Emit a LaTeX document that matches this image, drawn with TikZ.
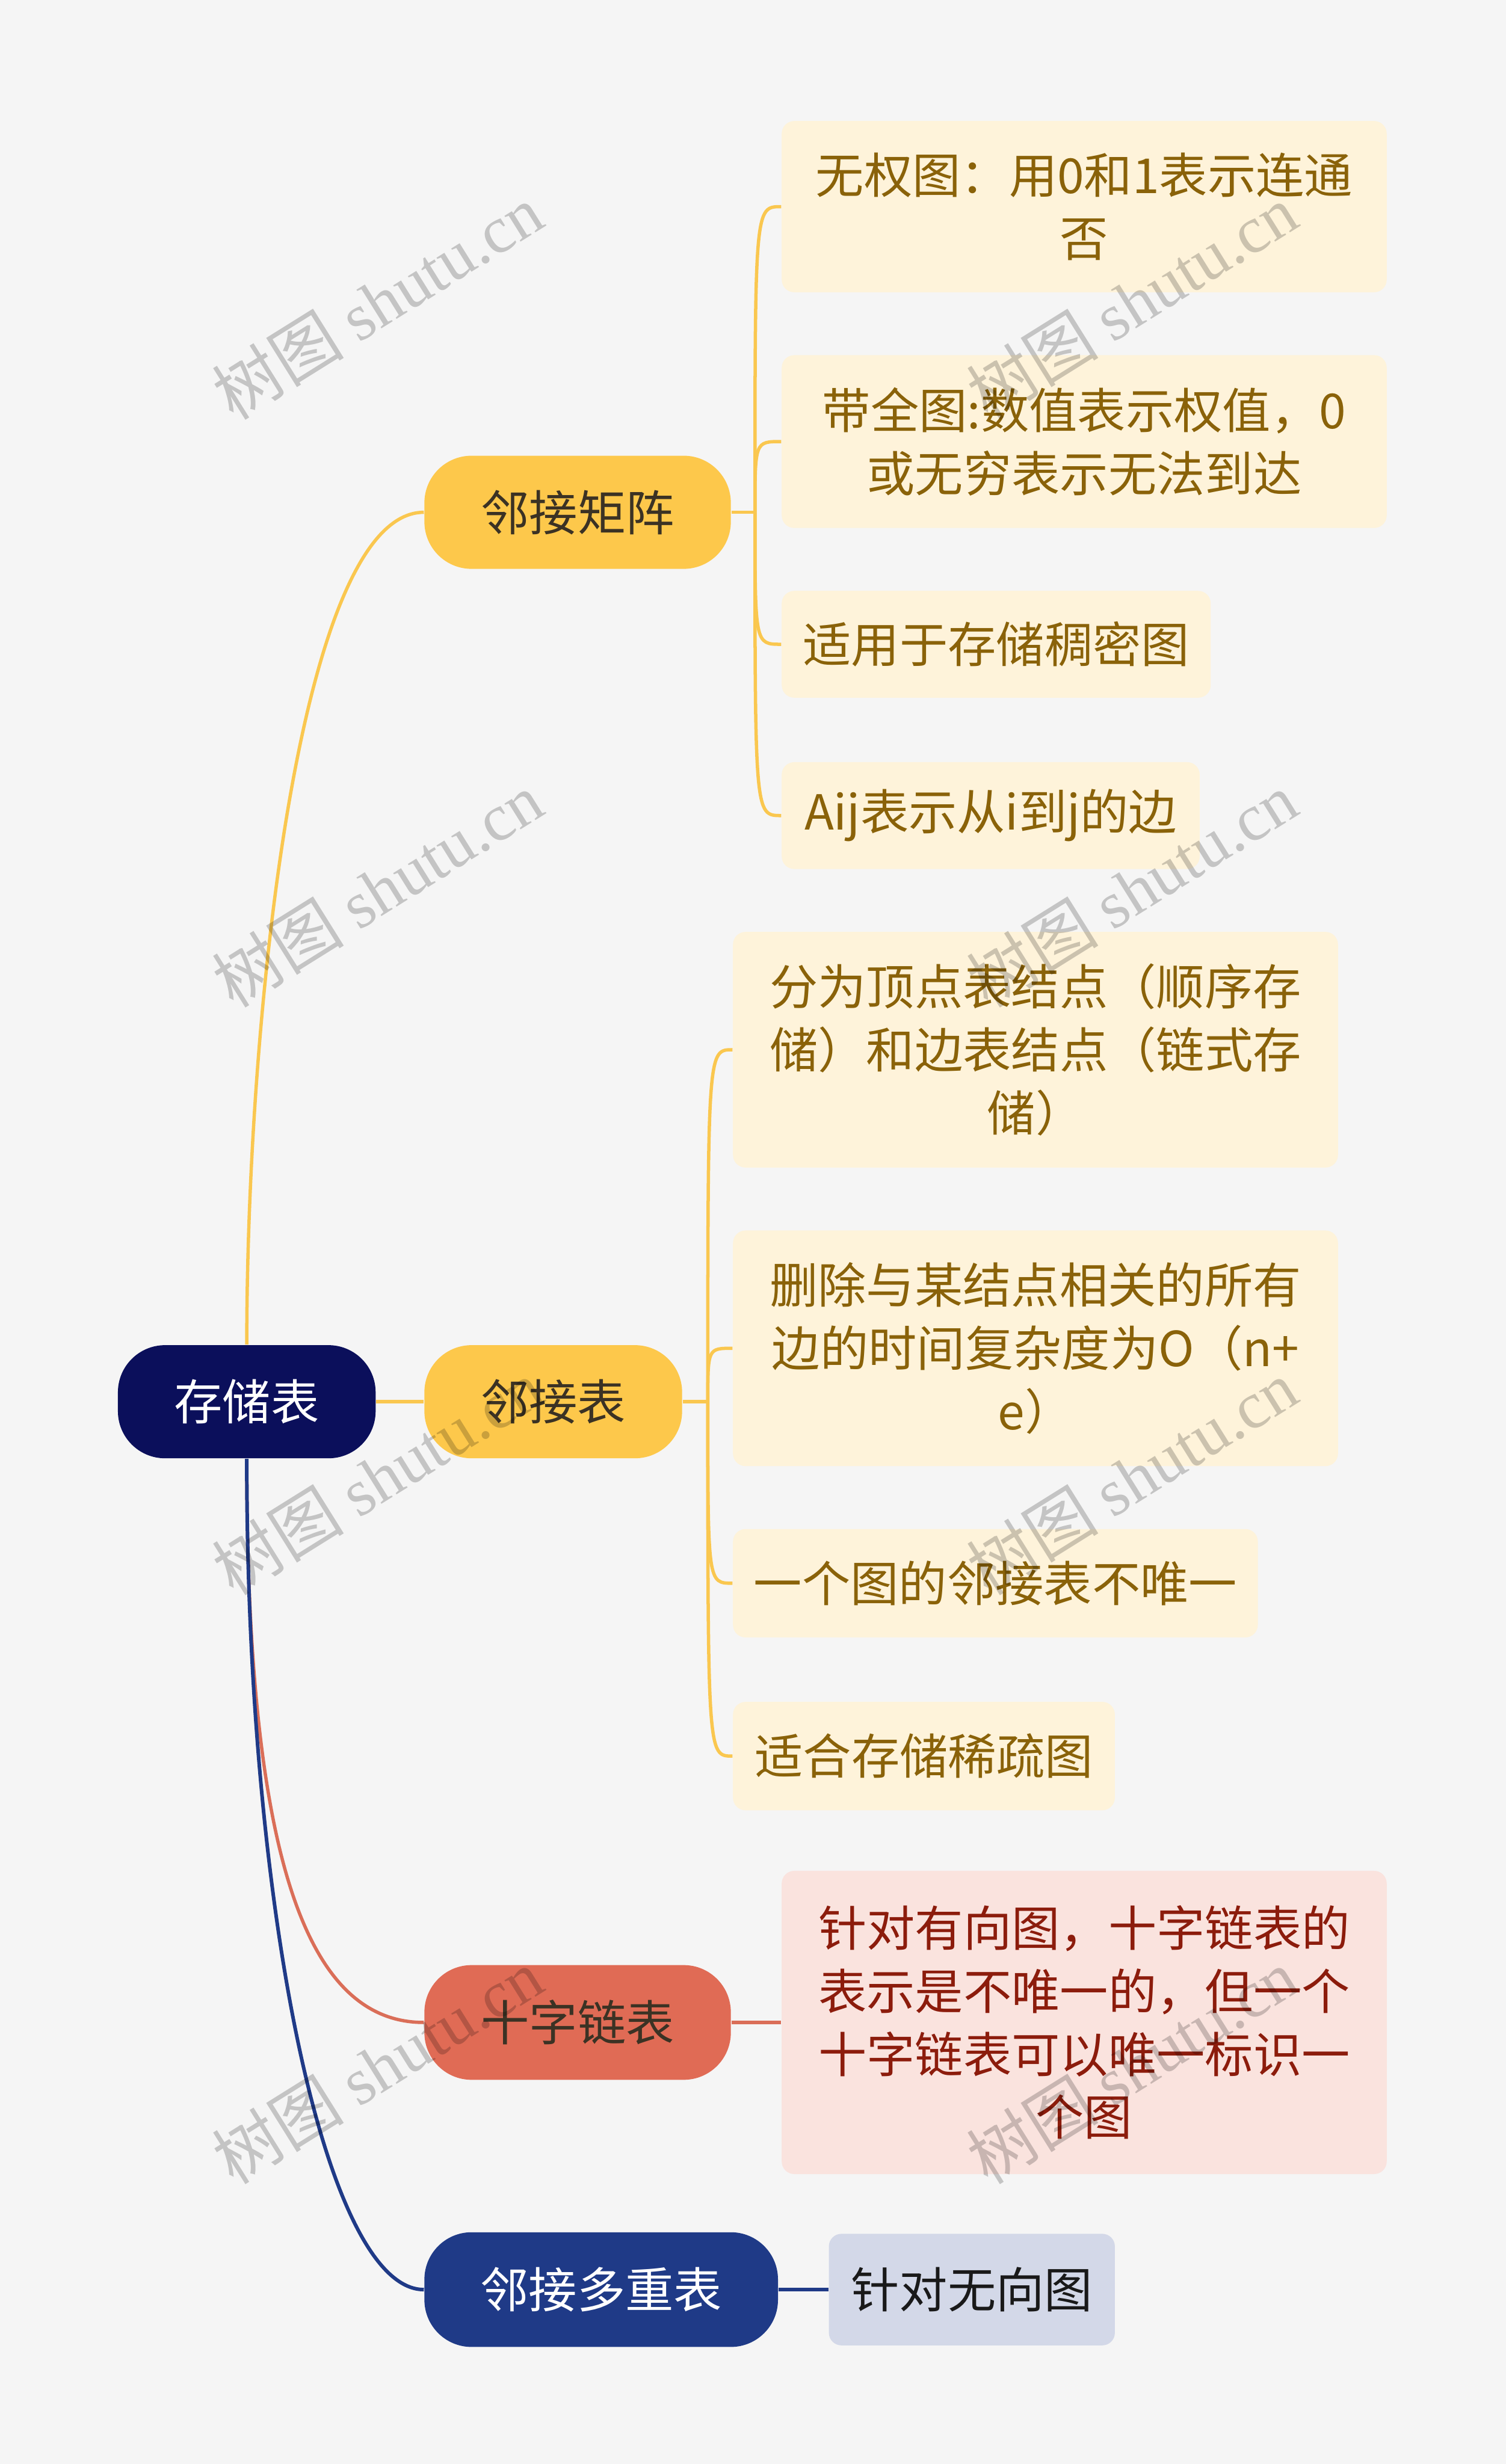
\documentclass[tikz,border=0pt]{standalone}
\usepackage{fontspec}
\setmainfont{Noto Sans CJK SC}
\newfontfamily\wmlatin{Liberation Serif}
\usetikzlibrary{calc,positioning}
\definecolor{paper}{HTML}{F5F5F5}
\definecolor{rootblue}{HTML}{0B0F5B}
\definecolor{topicyellow}{HTML}{FDC84B}
\definecolor{lineyellow}{HTML}{FAC74F}
\definecolor{leafcream}{HTML}{FEF3DA}
\definecolor{leafbrown}{HTML}{8A6209}
\definecolor{topicdark}{HTML}{3B3224}
\definecolor{topicsalmon}{HTML}{E06B55}
\definecolor{linesalmon}{HTML}{DA6E58}
\definecolor{leafpink}{HTML}{FAE3DE}
\definecolor{leafred}{HTML}{8C1C0C}
\definecolor{topicnavy}{HTML}{1F3A87}
\definecolor{leaflilac}{HTML}{D3D8E8}
\tikzset{line cap=round,
  topic/.style={rounded corners=.6cm,inner sep=0pt,minimum height=1.44cm,align=center,
    font=\fontsize{17.5}{23}\selectfont},
  ytopic/.style={topic,fill=topicyellow,text=topicdark},
  leaf/.style={rounded corners=.16cm,inner sep=0pt,anchor=west,align=center,
    font=\fontsize{17.5}{22.8}\selectfont},
  yleaf/.style={leaf,fill=leafcream,text=leafbrown},
  yline/.style={draw=lineyellow,line width=1.2pt},
  rline/.style={draw=linesalmon,line width=1.2pt},
  bline/.style={draw=topicnavy,line width=1.3pt},
  wmark/.style={rotate=32,text=black,text opacity=.2,font=\fontsize{24}{24}\selectfont}}
\begin{document}
\begin{tikzpicture}[x=.02cm,y=-.02cm]
\fill[paper] (0,0) rectangle (958,1568);
\useasboundingbox (0,0) rectangle (958,1568);
\node[topic,fill=rootblue,text=white,minimum width=3.28cm] (root) at (157,892) {存储表};
\node[ytopic,minimum width=3.9cm] (mat) at (367.5,326) {邻接矩阵};
\node[ytopic,minimum width=3.28cm] (adj) at (352,892) {邻接表};
\node[topic,fill=topicsalmon,text=topicdark,minimum width=3.9cm,minimum height=1.46cm] (cross) at (367.5,1287) {十字链表};
\node[topic,fill=topicnavy,text=white,minimum width=4.5cm,minimum height=1.46cm] (multi) at (382.5,1457) {邻接多重表};
\node[yleaf,minimum width=7.7cm,minimum height=2.18cm] (m1) at (497,131.5) {无权图：用0和1表示连通\\否};
\node[yleaf,minimum width=7.7cm,minimum height=2.2cm] (m2) at (497,281) {带全图:数值表示权值，0\\或无穷表示无法到达};
\node[yleaf,minimum width=5.46cm,minimum height=1.36cm] (m3) at (497,410) {适用于存储稠密图};
\node[yleaf,minimum width=5.32cm,minimum height=1.36cm] (m4) at (497,519) {Aij表示从i到j的边};
\node[yleaf,minimum width=7.7cm,minimum height=3cm] (a1) at (466,668) {分为顶点表结点（顺序存\\储）和边表结点（链式存\\储）};
\node[yleaf,minimum width=7.7cm,minimum height=3cm] (a2) at (466,858) {删除与某结点相关的所有\\边的时间复杂度为O（n+\\e）};
\node[yleaf,minimum width=6.68cm,minimum height=1.38cm] (a3) at (466,1007.5) {一个图的邻接表不唯一};
\node[yleaf,minimum width=4.86cm,minimum height=1.38cm] (a4) at (466,1117.5) {适合存储稀疏图};
\node[leaf,fill=leafpink,text=leafred,minimum width=7.7cm,minimum height=3.86cm] (c1) at (497,1287) {针对有向图，十字链表的\\表示是不唯一的，但一个\\十字链表可以唯一标识一\\个图};
\node[leaf,fill=leaflilac,text=black!90,minimum width=3.64cm,minimum height=1.42cm] (u1) at (527,1457) {针对无向图};
\draw[yline] (root.north) .. controls +(0,-205) and +(-80,0) .. (mat.west);
\draw[yline] (root.east) -- (adj.west);
\draw[rline] (root.south) .. controls +(0,253) and +(-75,0) .. (cross.west);
\draw[bline] (root.south) .. controls +(0,291) and +(-62,0) .. (multi.west);
\coordinate (mhub) at ([xshift=.3cm]mat.east);
\draw[yline] (mat.east) -- (mhub);
\foreach \c in {m1,m2,m3,m4}{\draw[yline] (mhub) .. controls (mhub|-\c.west) .. (\c.west);}
\coordinate (ahub) at ([xshift=.32cm]adj.east);
\draw[yline] (adj.east) -- (ahub);
\foreach \c in {a1,a2,a3,a4}{\draw[yline] (ahub) .. controls (ahub|-\c.west) .. (\c.west);}
\draw[rline] (cross.east) -- (c1.west);
\draw[bline] (multi.east) -- (u1.west);
\foreach \wx in {240,720}{\foreach \wy in {192,566,940,1315}{\node[wmark] (wm-\wx-\wy) at (\wx,\wy) {树图 {\wmlatin shutu.cn}};}}
\end{tikzpicture}
\end{document}
